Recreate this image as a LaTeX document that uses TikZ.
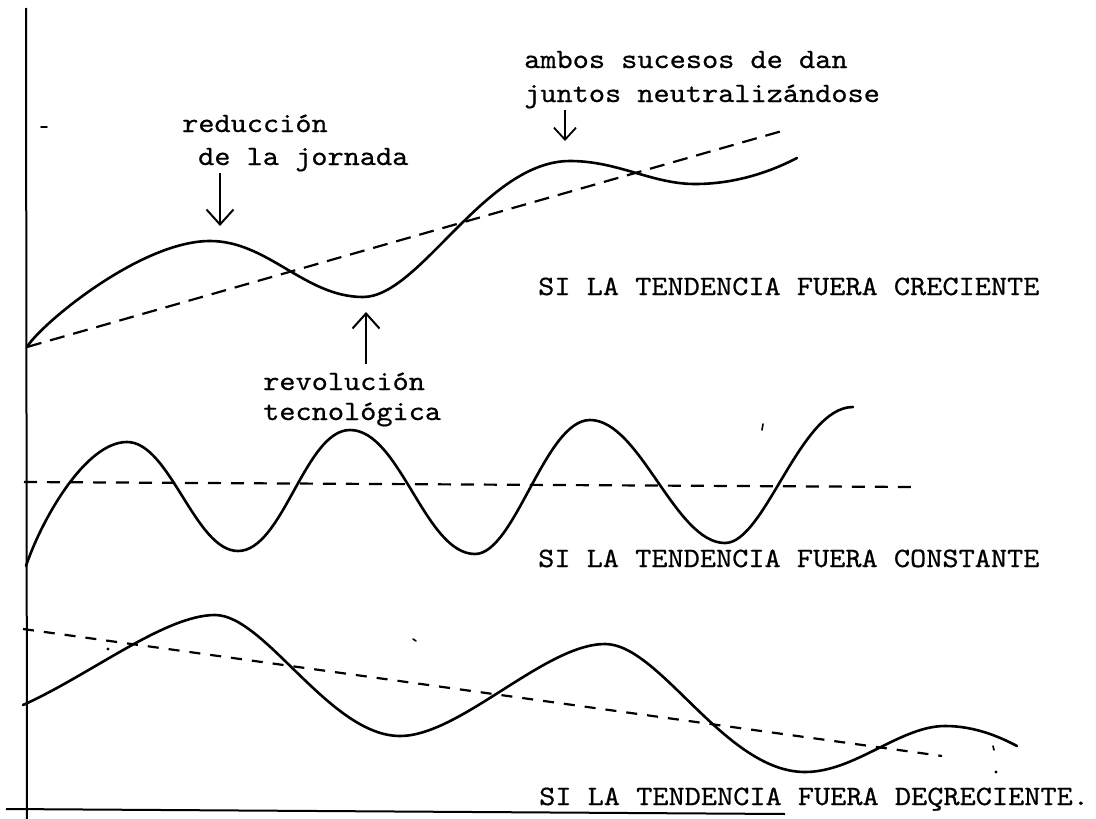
\documentclass[tikz,border=0pt]{standalone}
\usepackage{fontspec}
\newfontfamily\tw{lmmono10-regular.otf}[FakeStretch=1.1,FakeBold=0.6]
\usetikzlibrary{arrows.meta}
\begin{document}
\begin{tikzpicture}[x=1pt,y=-1pt,
  curve/.style={line width=2.6pt, line join=round, line cap=round},
  trend/.style={line width=2.2pt},
  axisline/.style={line width=2pt},
  speck/.style={line width=1.6pt, line cap=round},
  lbl/.style={anchor=base west, inner sep=0pt, font=\tw\fontsize{28}{33}\selectfont},
  ptr/.style={line width=2pt, -{Straight Barb[length=15pt,width=27pt,line width=2pt]}},
  ptrsmall/.style={line width=1.8pt, -{Straight Barb[length=12pt,width=22pt,line width=1.8pt]}}
]
\useasboundingbox (0,0) rectangle (1096,819);
\fill[white] (0,0) rectangle (1096,819);

% axes
\coordinate (ytop) at (26,8);
\coordinate (ybot) at (27,819);
\coordinate (xl) at (6,809);
\coordinate (xr) at (785,814);
\draw[axisline] (ytop) -- (ybot);
\draw[axisline] (xl) -- (xr);

% labels
\node[lbl] (red) at (182,132) {reducción};
\node[lbl] (jor) at (198,165) {de la jornada};
\node[lbl] (amb) at (524,68) {ambos sucesos de dan};
\node[lbl] (jun) at (524,102) {juntos neutralizándose};
\node[lbl] (rev) at (263,390) {revolución};
\node[lbl] (tec) at (263,420) {tecnológica};
\node[lbl] (cre) at (538,295) {SI LA TENDENCIA FUERA CRECIENTE};
\node[lbl] (con) at (538,567) {SI LA TENDENCIA FUERA CONSTANTE};
\node[lbl] (dec) at (539,805) {SI LA TENDENCIA FUERA DEÇRECIENTE.};

% pointers
\coordinate (a1s) at (220,173);
\coordinate (a1e) at (220,226);
\coordinate (a2s) at (366,364);
\coordinate (a2e) at (366,312);
\coordinate (a3s) at (565,110);
\coordinate (a3e) at (565,141);
\draw[ptr] (a1s) -- (a1e);
\draw[ptr] (a2s) -- (a2e);
\draw[ptrsmall] (a3s) -- (a3e);

% trend lines
\coordinate (t1a) at (27,347);
\coordinate (t1b) at (782,131);
\coordinate (t2a) at (24,482);
\coordinate (t2b) at (913,487);
\coordinate (t3a) at (23,629);
\coordinate (t3b) at (942,756);
\draw[trend, dash pattern=on 15pt off 9pt] (t1a) -- (t1b);
\draw[trend, dash pattern=on 13pt off 10pt] (t2a) -- (t2b);
\draw[trend, dash pattern=on 11pt off 10pt] (t3a) -- (t3b);

% curve 1 (creciente)
\draw[curve] (27,347)
  .. controls (40,325) and (140,241) .. (210,241)
  .. controls (268,241) and (305,297) .. (363,297)
  .. controls (420,297) and (485,161) .. (570,161)
  .. controls (618,161) and (652,184) .. (695,184)
  .. controls (735,184) and (770,172) .. (797,158);

% curve 2 (constante)
\draw[curve] (26,566)
  .. controls (41,521) and (85,442) .. (127,442)
  .. controls (170,442) and (195,551) .. (238,551)
  .. controls (283,551) and (305,430) .. (350,430)
  .. controls (400,430) and (425,554) .. (475,554)
  .. controls (515,554) and (545,420) .. (590,420)
  .. controls (640,420) and (675,543) .. (725,543)
  .. controls (765,543) and (800,407) .. (853,407);

% curve 3 (decreciente)
\draw[curve] (23,705)
  .. controls (90,675) and (165,615) .. (215,615)
  .. controls (265,615) and (330,736) .. (400,736)
  .. controls (460,736) and (545,644) .. (605,644)
  .. controls (660,644) and (725,772) .. (805,772)
  .. controls (855,772) and (900,726) .. (945,726)
  .. controls (975,726) and (1000,737) .. (1017,746);

% specks of the original
\draw[speck] (41,127) -- (47,127);
\draw[speck] (763,424) -- (762,430);
\draw[speck] (413,639) -- (416,641);
\draw[speck] (993,746) -- (994,750);
\fill (108,649) circle (1.6pt);
\fill (996,772) circle (1.6pt);
\end{tikzpicture}
\end{document}
